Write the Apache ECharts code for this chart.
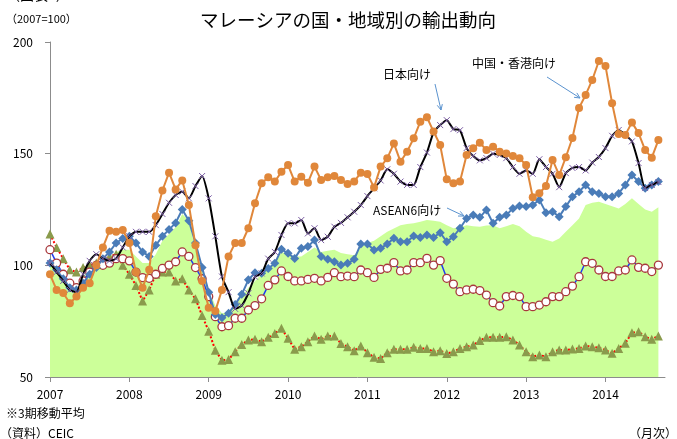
<!DOCTYPE html>
<html>
<head>
<meta charset="utf-8">
<script src="https://cdn.jsdelivr.net/npm/echarts@6/dist/echarts.min.js"></script>
<style>
html,body{margin:0;padding:0;background:#fff;}
#chart{width:677px;height:439px;}
</style>
</head>
<body>
<div id="chart"></div>
<script>
// 2007/1 ～ 2014/9 の月次（3期移動平均、2007=100）
const years = ['2007', '2008', '2009', '2010', '2011', '2012', '2013', '2014'];

// 輸出合計（面）
const total = [
  102, 98, 94, 90, 91, 95, 98, 101, 102, 104,
  106, 107, 107, 104, 101, 101, 105, 111, 114, 117,
  123, 120, 107, 98, 89, 82, 78.5, 79, 82, 86,
  90, 93, 96, 99, 101, 106, 105, 104, 104, 106,
  108, 106, 106.5, 107, 105.5, 105, 104.5, 108, 110, 111,
  113, 115, 116.5, 118, 118.5, 118.8, 119.5, 120.3, 120, 119.5,
  118, 116.6, 117, 118, 117.5, 117.3, 117.8, 118, 116.6, 117.5,
  118.5, 117.5, 115, 113, 112.5, 111.5, 110.6, 112, 115, 118,
  121, 127, 128, 128.5, 127.5, 126.5, 125.5, 127.5, 130, 127.5,
  125, 124, 126
];
// 米国向け
const us = [
  114, 108, 103, 98, 97, 99, 100, 101, 102, 104,
  105, 100, 96, 91, 84, 89, 96, 97, 97, 93,
  94, 89, 85, 77.5, 70.5, 62, 57.5, 57.8, 61.3, 64.5,
  66.6, 66.9, 65.8, 67.8, 69.5, 71.8, 67.3, 62.4, 63.6, 65.8,
  68.4, 66.9, 68.4, 68.4, 65, 63.6, 61.8, 63.9, 60.9, 58.8,
  58.3, 60.9, 62.4, 62.4, 62.4, 63.3, 62.8, 62.8, 61.3, 61.8,
  60.5, 61.3, 62.8, 63.6, 64.3, 66.3, 67.8, 67.8, 67.8, 68,
  66.6, 64.3, 61.3, 59.1, 59.9, 59.1, 61.3, 62.1, 62.1, 62.5,
  62.8, 63.9, 63.6, 63.1, 62.1, 60.6, 62.8, 65.1, 69.8, 70.3,
  68, 66.9, 68.4
];
// 欧州向け
const europe = [
  107, 101, 96, 92, 90, 93, 97, 100, 100, 101,
  103, 103, 102, 97, 94.5, 94.2, 96, 98.6, 100.1, 101.6,
  106, 104, 99, 94, 86, 77, 72.5, 73, 76.3, 76.3,
  80, 82, 85, 91, 93.5, 97.5, 95, 93, 93, 93.7,
  94.2, 93, 94.6, 96.7, 94.9, 95.2, 94.9, 97.9, 96.7, 94.6,
  98.2, 98.7, 101.2, 97.5, 97.9, 101.2, 101.2, 103.1, 100.1, 102.1,
  94.2, 91.6, 88.2, 89, 89.3, 88.7, 86.7, 83.3, 81.8, 86,
  86.5, 86, 81.5, 81.5, 82.2, 83.7, 86, 86, 88.2, 90.7,
  94.9, 101.6, 100.9, 97.9, 95, 95, 97.5, 97.9, 102.4, 99.1,
  98.7, 97.2, 100.1
];
// ASEAN6向け
const asean = [
  101, 98, 94, 90, 89, 92, 96, 99, 103, 106,
  110, 112, 113, 110, 106, 104, 109, 113, 116, 119,
  125, 120, 110, 99, 88, 78, 76.5, 78.5, 82.5, 87,
  93.5, 96.7, 96.4, 98.6, 100.9, 107.2, 105.4, 103.1, 107.6, 108.4,
  111.3, 103.9, 102.7, 101.6, 100.1, 100.9, 102.7, 109.6, 109.6, 106.9,
  107.6, 109.6, 112.1, 110.6, 110.6, 113.1, 112.5, 113.6, 112.5, 114.6,
  110.6, 112.8, 116.6, 121, 122.5, 121.5, 124.8, 118.8, 121.5, 122.5,
  125.5, 126.6, 126.3, 127, 129.3, 123.6, 124, 121.8, 126.3, 130.7,
  133, 136, 133, 132.2, 130.7, 130.7, 132.2, 136, 140.4, 137.5,
  134.5, 136, 137.5
];
// 日本向け
const japan = [
  101, 97, 93, 89, 88, 96, 102, 105, 103, 102,
  103, 108, 113, 115, 115, 115, 118, 123, 128, 131.5,
  133, 130, 135.5, 140, 130, 113, 95, 88, 80.5, 82,
  87.5, 94.9, 96.4, 103, 106, 113.6, 118.8, 118.8, 120.3, 114.3,
  116.6, 111.3, 112.8, 117.3, 119, 121.5, 124, 127, 131, 134.5,
  138, 143, 141, 137.5, 136, 136, 144, 150.5, 159.5, 162.8,
  165, 161, 160.5, 152.5, 149, 147, 148, 150, 149.4, 148,
  144, 141, 142.5, 141, 147.5, 144, 141, 135, 141.3, 143.6,
  144, 142.5, 146, 148.5, 152.5, 158, 160.6, 158.4, 155.5, 145.8,
  134.6, 136, 137.3
];
// 中国・香港向け
const china = [
  96, 89, 87.6, 83, 86, 90, 92, 100, 108, 115.5,
  115, 115.8, 110, 97, 90, 98, 122, 133.5, 141.5, 134,
  138, 127, 109, 93, 81, 79.5, 89, 104, 110, 110,
  116.6, 127.8, 136.7, 139.4, 137.5, 141.9, 144.9, 137.5, 139.7, 137,
  144.2, 138.2, 139.4, 140, 138.2, 136.4, 137.5, 141.5, 140.9, 134.9,
  144.2, 147.9, 154.6, 146.4, 150.9, 156.9, 164.3, 166.3, 159.9, 153.9,
  138.5, 136.7, 137.5, 149.4, 152.4, 154.9, 151.6, 153.1, 150.9, 150.1,
  149, 147.9, 144.9, 130.5, 132.3, 135.5, 147.2, 140.4, 148.4, 157,
  170.5, 176.3, 183, 191.5, 189.3, 172.6, 158.8, 158.4, 164, 159.2,
  151.6, 148.2, 156.1
];

// 月のカテゴリ（最後に1か月分の余白）
const months = [];
years.forEach(y => { for (let m = 1; m <= 12; m++) months.push(y + '/' + m); });
months.length = total.length + 1;

const FONT = '"Noto Sans CJK JP", "Noto Sans", sans-serif';
const ARROW = '#5b93cf';

function arrow(x1, y1, x2, y2) {
  const a = Math.atan2(y2 - y1, x2 - x1), L = 6, w = 0.45;
  return {
    type: 'group', silent: true,
    children: [
      { type: 'line', shape: { x1, y1, x2, y2 }, style: { stroke: ARROW, lineWidth: 1 } },
      { type: 'polyline', shape: { points: [
        [x2 - L * Math.cos(a - w), y2 - L * Math.sin(a - w)], [x2, y2],
        [x2 - L * Math.cos(a + w), y2 - L * Math.sin(a + w)]] },
        style: { stroke: ARROW, lineWidth: 1, fill: null } }
    ]
  };
}
function label(text, x, y, size, align) {
  return { type: 'text', silent: true, style: {
    text, x, y, fill: '#000', font: size + 'px ' + FONT,
    align: align || 'left', verticalAlign: 'middle' } };
}

const chart = echarts.init(document.getElementById('chart'));
chart.setOption({
  animation: false,
  backgroundColor: '#fff',
  grid: { left: 50, right: 12, top: 42, bottom: 62 },
  xAxis: {
    type: 'category', data: months, boundaryGap: false,
    axisLine: { lineStyle: { color: '#8c8c8c', width: 1 } },
    axisTick: { interval: i => i % 12 === 0, length: 5, lineStyle: { color: '#8c8c8c' } },
    axisLabel: { interval: i => i % 12 === 0, formatter: v => v.split('/')[0],
      color: '#000', fontSize: 12, fontFamily: FONT, margin: 11 },
    splitLine: { show: false }
  },
  yAxis: {
    type: 'value', min: 50, max: 200, interval: 50,
    axisLine: { show: true, lineStyle: { color: '#8c8c8c', width: 1 } },
    axisTick: { show: true, length: 5, lineStyle: { color: '#8c8c8c' } },
    axisLabel: { color: '#000', fontSize: 12, fontFamily: FONT, margin: 17 },
    splitLine: { show: false }
  },
  series: [
    { name: '輸出合計', type: 'line', data: total, symbol: 'none', z: 1,
      lineStyle: { width: 0 }, areaStyle: { color: '#ccff99', opacity: 1, origin: 'start' } },
    { name: '米国向け', type: 'line', data: us, symbol: 'triangle', symbolSize: 9, z: 2,
      showAllSymbol: true,
      itemStyle: { color: '#8a9b4c' }, lineStyle: { color: '#ff0000', width: 2, type: [2, 2] } },
    { name: '欧州向け', type: 'line', data: europe, symbol: 'circle', symbolSize: 8, z: 3,
      showAllSymbol: true,
      itemStyle: { color: '#fff', borderColor: '#a8383c', borderWidth: 1.3 },
      lineStyle: { color: '#1f3cf0', width: 1.5 } },
    { name: 'ASEAN6向け', type: 'line', data: asean, symbol: 'diamond', symbolSize: 9, z: 4,
      showAllSymbol: true,
      itemStyle: { color: '#4a7cb8' }, lineStyle: { color: '#4a7cb8', width: 2 } },
    { name: '日本向け', type: 'line', data: japan, symbol: 'path://M0,0L10,10M10,0L0,10',
      symbolSize: 6, z: 5, smooth: 0.2, showAllSymbol: true,
      itemStyle: { color: '#7d5fa6', borderColor: '#7d5fa6', borderWidth: 1 },
      lineStyle: { color: '#000', width: 2 } },
    { name: '中国・香港向け', type: 'line', data: china, symbol: 'circle', symbolSize: 8, z: 6,
      showAllSymbol: true,
      itemStyle: { color: '#e0873a' }, lineStyle: { color: '#e0873a', width: 2 } }
  ],
  graphic: [
    label('（図表7）', 6, -5, 14),
    label('マレーシアの国・地域別の輸出動向', 348, 20, 18.5, 'center'),
    label('（2007=100）', 6, 19, 11),
    { type: 'rect', silent: true, shape: { x: 66, y: 341, width: 74, height: 27 }, style: { fill: '#fff' } },
    label('輸出合計', 103, 355, 13, 'center'),
    label('日本向け', 383, 74, 12),
    arrow(435, 84, 441, 110),
    label('中国・香港向け', 472, 63, 12),
    arrow(547, 77, 580, 98),
    label('ASEAN6向け', 373, 210, 12),
    arrow(447, 208, 464, 216),
    label('欧州向け', 517, 260, 12),
    arrow(545, 268, 545, 295),
    label('米国向け', 590, 314, 12),
    arrow(603, 323, 603, 347),
    label('※3期移動平均', 6, 413, 12),
    label('（資料）CEIC', 0, 433, 12),
    label('（月次）', 677, 433, 12, 'right')
  ]
});
</script>
</body>
</html>
